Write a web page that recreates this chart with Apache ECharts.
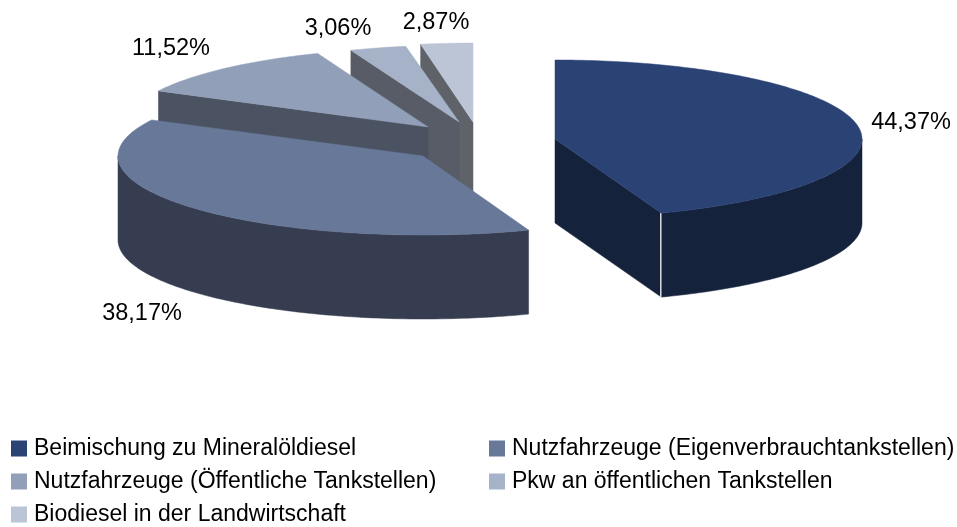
<!DOCTYPE html>
<html>
<head>
<meta charset="utf-8">
<style>
  html, body { margin: 0; padding: 0; background: #fff; }
  #chart { width: 957px; height: 527px; }
</style>
<script src="https://cdn.jsdelivr.net/npm/echarts@6/dist/echarts.min.js"></script>
</head>
<body>
<div id="chart"></div>
<script>
const categories = [
  'Beimischung zu Mineralöldiesel',
  'Nutzfahrzeuge (Eigenverbrauchtankstellen)',
  'Nutzfahrzeuge (Öffentliche Tankstellen)',
  'Pkw an öffentlichen Tankstellen',
  'Biodiesel in der Landwirtschaft'
]
const shares = [44.37, 38.17, 11.52, 3.06, 2.87]

// Farben: Oberseite / Seitenwand
const topColors = ['#2a4274', '#677899', '#919fb9', '#a6b2c7', '#bcc5d6']
const wallColors = ['#15223c', '#363d51', '#4b5261', '#575c66', '#5f6369']

// Geometrie der explodierten Scheibe (hintere Stücke wirken durch die Perspektive etwas kleiner)
const radiusX = [307, 305, 303, 297, 292]
const radiusY = [79, 79, 79, 77, 79]
const depth = 84
const apexX = [555, 423, 428, 459, 473]
const apexY = [139, 156, 127, 122, 122]
const labelX = [911, 142, 171, 338, 436]
const labelY = [123, 314, 49, 29, 23]

const total = shares.reduce((a, b) => a + b, 0)
const startAngles = shares.map((_, i) =>
  shares.slice(0, i).reduce((a, b) => a + b, 0) / total * 360)

const rad = deg => deg * Math.PI / 180

const arcPoints = (i, from, to, dy) => {
  const pts = []
  const steps = Math.max(2, Math.ceil(to - from))
  for (let k = 0; k <= steps; k++) {
    const t = rad(from + (to - from) * k / steps)
    pts.push([apexX[i] + radiusX[i] * Math.sin(t), apexY[i] - radiusY[i] * Math.cos(t) + dy])
  }
  return pts
}

const renderSlice = (params, api) => {
  const i = params.seriesIndex
  const from = startAngles[i]
  const to = from + api.value(0) / total * 360
  const cx = apexX[i]
  const cy = apexY[i]
  const children = []
  const wallStyle = { fill: wallColors[i], stroke: wallColors[i], lineWidth: 0.5 }

  // Schnittfläche am Anfang, wenn sie nach vorne zeigt
  const rim = deg => [cx + radiusX[i] * Math.sin(rad(deg)), cy - radiusY[i] * Math.cos(rad(deg))]
  const cutFace = deg => {
    const p = rim(deg)
    children.push({
      type: 'polygon',
      shape: { points: [[cx, cy], p, [p[0], p[1] + depth], [cx, cy + depth]] },
      style: wallStyle
    })
  }
  if (Math.sin(rad(from)) < -1e-6) cutFace(from)
  if (Math.sin(rad(to)) > 1e-6) cutFace(to)

  // Außenwand (nur vorderer Teil der Ellipse)
  const wallFrom = Math.max(from, 90)
  const wallTo = Math.min(to, 270)
  if (wallTo > wallFrom) {
    children.push({
      type: 'polygon',
      shape: {
        points: arcPoints(i, wallFrom, wallTo, 0)
          .concat(arcPoints(i, wallFrom, wallTo, depth).reverse())
      },
      style: wallStyle
    })
  }

  // helle Kante zwischen Schnittfläche und Außenwand
  if (i === 0) {
    const p = rim(to)
    children.push({
      type: 'line',
      shape: { x1: p[0] - 0.5, y1: p[1], x2: p[0] - 0.5, y2: p[1] + depth },
      style: { stroke: '#d5d8de', lineWidth: 1.5 }
    })
  }

  // Oberseite
  children.push({
    type: 'polygon',
    shape: { points: [[cx, cy]].concat(arcPoints(i, from, to, 0)) },
    style: { fill: topColors[i], stroke: topColors[i], lineWidth: 0.5 }
  })

  // Prozentwert
  children.push({
    type: 'text',
    style: {
      x: labelX[i],
      y: labelY[i],
      text: api.value(0).toFixed(2).replace('.', ',') + '%',
      align: 'center',
      verticalAlign: 'middle',
      fill: '#000',
      font: '23.5px "Liberation Sans"'
    }
  })

  return { type: 'group', children }
}

const chart = echarts.init(document.getElementById('chart'), null, { renderer: 'canvas' })

chart.setOption({
  animation: false,
  backgroundColor: '#fff',
  tooltip: { show: false },
  legend: {
    data: categories,
    left: 11,
    top: 432,
    width: 960,
    padding: 0,
    itemGap: 0,
    itemWidth: 16,
    itemHeight: 16,
    icon: 'rect',
    selectedMode: false,
    textStyle: {
      fontFamily: 'Liberation Sans',
      fontSize: 23,
      color: '#000',
      width: 455,
      lineHeight: 33,
      padding: [0, 0, 0, 2]
    }
  },
  // hintere Stücke zuerst zeichnen, vordere liegen darüber
  series: categories.map((name, i) => ({
    name,
    type: 'custom',
    coordinateSystem: 'none',
    z: 10 - i,
    silent: true,
    itemStyle: { color: topColors[i] },
    renderItem: renderSlice,
    data: [shares[i]]
  }))
})
</script>
</body>
</html>
